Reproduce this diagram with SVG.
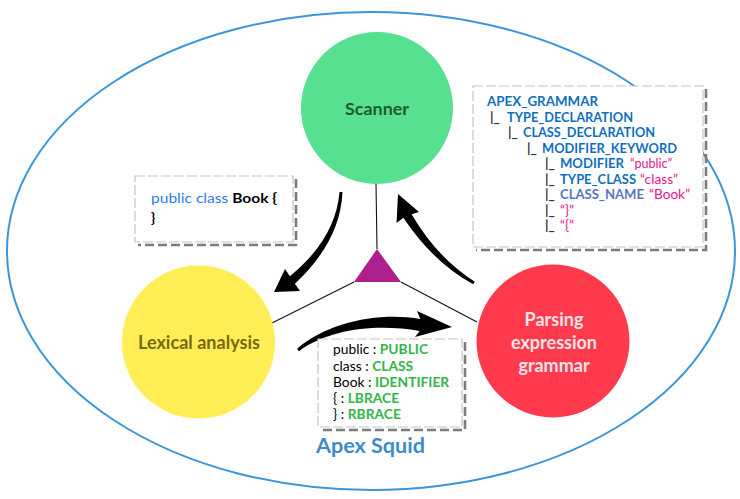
<svg xmlns="http://www.w3.org/2000/svg" width="740" height="499" viewBox="0 0 740 499">
<style>
.lbl{font-family:Lato,"Open Sans","Liberation Sans",sans-serif;font-weight:700;text-anchor:middle}
.bx{font-family:Lato,"Open Sans","Liberation Sans",sans-serif;font-size:13.8px}
.g{font-family:Lato,"Open Sans","Liberation Sans",sans-serif;font-size:13.5px;font-weight:700}
.blue{fill:#0F6FBF}
.pink{fill:#E8158C;font-weight:400}
.bar{fill:#333333}
.grn{fill:#33B54A;font-weight:700}
.paper{fill:#ffffff;stroke:#c4c4c4;stroke-width:1.2;stroke-dasharray:10 3}
.shadow{fill:none;stroke:#7c7c7c;stroke-width:2.6;stroke-dasharray:9 4}
.conn{stroke:#111;stroke-width:1.1;fill:none}
.arrow{fill:#000}
</style>
<rect width="740" height="499" fill="#ffffff"/>
<ellipse id="boundary" cx="371" cy="251" rx="364" ry="239" fill="none" stroke="#3A96DA" stroke-width="2"/>
<g id="connectors">
<line class="conn" x1="376" y1="183" x2="377" y2="249"/>
<line class="conn" x1="354" y1="282" x2="272" y2="323"/>
<line class="conn" x1="401" y1="282" x2="477" y2="322"/>
<path class="arrow" d="M342.5,192 Q340.4,241.2 294.9,283.8 L300,291 L274,292 L285,269 L289.9,276.2 Q335.6,238.8 339.5,192 Z"/>
<path class="arrow" d="M297.1,348.8 C328.5,321.4 380.5,312 420.3,319 L417,311 L452,327 L415,337 L419.7,331 C379.5,324 331.5,327.6 298.9,351.2 Z"/>
<path class="arrow" d="M473.2,284.3 Q432.7,262 403.4,217.8 L396.5,223 L398,194 L419,212 L411.6,214.2 Q437.3,258 474.8,281.7 Z"/>
</g>
<g id="hub"><polygon points="377,249 354,282 401,282" fill="#AC1F8D"/></g>
<g id="scanner">
<circle cx="377" cy="108" r="76" fill="#56E08F"/>
<text class="lbl" x="377" y="115" font-size="17.5" fill="#1E5B33" textLength="64" lengthAdjust="spacingAndGlyphs">Scanner</text>
</g>
<g id="lexical">
<circle cx="198.5" cy="342" r="76.5" fill="#FFEE55"/>
<text class="lbl" x="199" y="349" font-size="18" fill="#786A12" textLength="122" lengthAdjust="spacingAndGlyphs">Lexical analysis</text>
</g>
<g id="parsing">
<circle cx="553" cy="341" r="76.5" fill="#FF3A4D"/>
<text class="lbl" font-size="18" fill="#FCE4E6"><tspan x="554" y="326">Parsing</tspan><tspan x="554" y="349">expression</tspan><tspan x="554" y="372">grammar</tspan></text>
</g>
<g id="source-box">
<path class="shadow" d="M296,179 V245 H138"/>
<rect class="paper" x="135" y="176" width="158" height="66"/>
<text class="bx" x="151" y="203" font-size="15.5" textLength="126" lengthAdjust="spacingAndGlyphs"><tspan fill="#2B7BF2">public class </tspan><tspan font-weight="700" fill="#000">Book {</tspan></text>
<text class="bx" x="151" y="223" font-size="15.5" font-weight="700" fill="#000">}</text>
</g>
<g id="tokens-box">
<path class="shadow" d="M465,342 V430 H321"/>
<rect class="paper" x="318" y="339" width="144" height="88"/>
<text class="bx" fill="#000">
<tspan x="333" y="354">public : <tspan class="grn">PUBLIC</tspan></tspan>
<tspan x="333" y="371">class : <tspan class="grn">CLASS</tspan></tspan>
<tspan x="333" y="387">Book : <tspan class="grn">IDENTIFIER</tspan></tspan>
<tspan x="333" y="403">{ : <tspan class="grn">LBRACE</tspan></tspan>
<tspan x="333" y="419">} : <tspan class="grn">RBRACE</tspan></tspan>
</text>
</g>
<g id="grammar-box">
<path class="shadow" d="M706,89 V250 H476"/>
<rect class="paper" x="473" y="86" width="230" height="161"/>
<g class="g">
<text class="blue" x="487" y="106" textLength="111" lengthAdjust="spacingAndGlyphs">APEX_GRAMMAR</text>
<text class="bar" x="490" y="122">|_</text>
<text class="blue" x="507" y="122" textLength="126" lengthAdjust="spacingAndGlyphs">TYPE_DECLARATION</text>
<text class="bar" x="508" y="137">|_</text>
<text class="blue" x="523" y="137" textLength="132" lengthAdjust="spacingAndGlyphs">CLASS_DECLARATION</text>
<text class="bar" x="527" y="153">|_</text>
<text class="blue" x="542" y="153" textLength="135" lengthAdjust="spacingAndGlyphs">MODIFIER_KEYWORD</text>
<text class="bar" x="545" y="168">|_</text>
<text class="blue" x="560" y="168" textLength="64" lengthAdjust="spacingAndGlyphs">MODIFIER</text>
<text class="pink" x="630" y="168" textLength="42" lengthAdjust="spacingAndGlyphs">“public”</text>
<text class="bar" x="545" y="184">|_</text>
<text class="blue" x="560" y="184" textLength="76" lengthAdjust="spacingAndGlyphs">TYPE_CLASS</text>
<text class="pink" x="640" y="184" textLength="38" lengthAdjust="spacingAndGlyphs">“class”</text>
<text class="bar" x="545" y="199">|_</text>
<text x="560" y="199" fill="#5577C2" textLength="84" lengthAdjust="spacingAndGlyphs">CLASS_NAME</text>
<text class="pink" x="649" y="199" textLength="41" lengthAdjust="spacingAndGlyphs">“Book”</text>
<text class="bar" x="545" y="215">|_</text>
<text class="pink" x="560" y="215">“}”</text>
<text class="bar" x="545" y="230">|_</text>
<text class="pink" x="560" y="230">“{”</text>
</g>
</g>
<text x="316" y="453" font-family="Lato,'Open Sans','Liberation Sans',sans-serif" font-size="21" font-weight="700" fill="#3D8BC9" textLength="109" lengthAdjust="spacingAndGlyphs">Apex Squid</text>
</svg>
